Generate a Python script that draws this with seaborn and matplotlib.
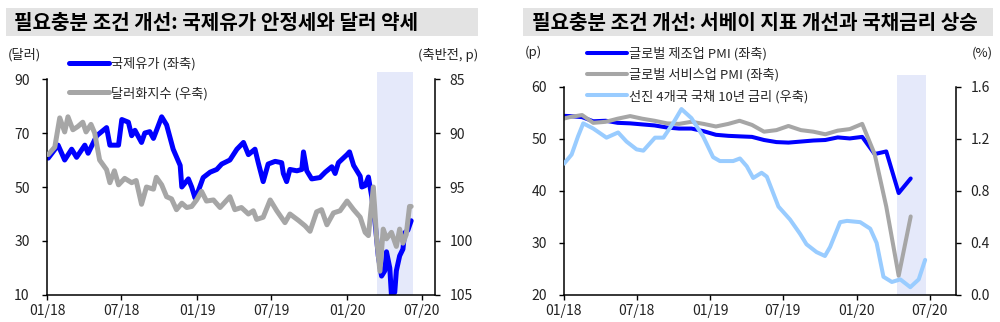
import numpy as np
import pandas as pd
import matplotlib
matplotlib.use("Agg")
import matplotlib.pyplot as plt
import matplotlib.dates as mdates
from matplotlib.patches import Rectangle
import seaborn as sns

# ---------------- data: left panel ----------------
oil_dates = ["2018-01-04", "2018-01-28", "2018-02-13", "2018-03-02", "2018-03-14", "2018-04-03",
             "2018-04-11", "2018-05-02", "2018-05-26", "2018-06-03", "2018-06-24", "2018-07-02",
             "2018-07-18", "2018-07-26", "2018-08-03", "2018-08-19", "2018-08-27", "2018-09-08",
             "2018-09-17", "2018-10-07", "2018-10-19", "2018-11-04", "2018-11-21", "2018-11-25",
             "2018-12-11", "2018-12-19", "2018-12-27", "2019-01-04", "2019-01-16", "2019-02-02",
             "2019-02-18", "2019-03-02", "2019-03-22", "2019-04-08", "2019-04-24", "2019-05-06",
             "2019-05-22", "2019-05-30", "2019-06-11", "2019-06-23", "2019-07-10", "2019-07-26",
             "2019-07-30", "2019-08-07", "2019-08-15", "2019-09-01", "2019-09-13", "2019-09-17",
             "2019-09-25", "2019-10-07", "2019-10-27", "2019-11-09", "2019-11-25", "2019-12-03",
             "2019-12-11", "2020-01-01", "2020-01-07", "2020-01-17", "2020-02-02", "2020-02-06",
             "2020-02-14", "2020-02-22", "2020-03-01", "2020-03-09", "2020-03-17", "2020-03-25",
             "2020-04-02", "2020-04-06", "2020-04-14", "2020-04-18", "2020-04-26", "2020-04-30",
             "2020-05-08", "2020-05-16", "2020-05-20", "2020-05-28", "2020-06-05"]
oil_values = [60.7, 65.5, 60.0, 64.0, 61.0, 65.5,
              62.5, 69.0, 72.0, 65.5, 65.5, 75.0,
              74.0, 69.0, 71.0, 66.5, 70.0, 70.5,
              68.0, 76.0, 73.0, 64.0, 58.0, 50.0,
              53.0, 50.0, 46.0, 48.5, 53.5, 55.5,
              56.5, 58.5, 60.0, 64.0, 66.5, 62.0,
              64.0, 59.0, 52.0, 58.5, 59.5, 59.0,
              55.0, 52.0, 56.5, 56.0, 56.5, 63.0,
              56.0, 53.0, 53.5, 55.5, 57.5, 55.0,
              59.0, 62.0, 63.0, 58.0, 54.0, 50.0,
              50.5, 53.7, 46.5, 37.0, 24.5, 17.0,
              19.0, 26.0, 20.0, 10.0, 11.0, 19.0,
              24.5, 27.0, 33.0, 34.0, 37.5]

dxy_dates = ["2018-01-04", "2018-01-20", "2018-02-01", "2018-02-13", "2018-02-21", "2018-03-05",
             "2018-03-17", "2018-03-29", "2018-04-06", "2018-04-18", "2018-04-27", "2018-05-09",
             "2018-05-26", "2018-06-03", "2018-06-14", "2018-06-24", "2018-07-09", "2018-07-26",
             "2018-08-06", "2018-08-19", "2018-08-31", "2018-09-17", "2018-09-24", "2018-10-07",
             "2018-10-19", "2018-10-31", "2018-11-12", "2018-11-25", "2018-12-07", "2018-12-19",
             "2018-12-31", "2019-01-12", "2019-01-24", "2019-02-10", "2019-02-26", "2019-03-22",
             "2019-04-03", "2019-04-19", "2019-05-06", "2019-05-18", "2019-05-26", "2019-06-11",
             "2019-06-28", "2019-07-14", "2019-08-03", "2019-08-15", "2019-09-05", "2019-09-21",
             "2019-10-03", "2019-10-19", "2019-10-31", "2019-11-13", "2019-11-29", "2019-12-15",
             "2020-01-01", "2020-01-17", "2020-02-02", "2020-02-14", "2020-02-22", "2020-03-05",
             "2020-03-13", "2020-03-21", "2020-03-29", "2020-04-06", "2020-04-18", "2020-04-30",
             "2020-05-08", "2020-05-16", "2020-05-24", "2020-06-01", "2020-06-05"]
dxy_values = [92.0, 91.3, 88.6, 89.9, 88.5, 89.7,
              89.4, 89.0, 89.9, 89.2, 90.0, 92.5,
              93.4, 94.6, 93.5, 94.8, 94.2, 94.6,
              94.4, 96.6, 95.0, 95.2, 94.1, 94.8,
              95.9, 96.1, 97.1, 96.5, 96.9, 96.8,
              96.2, 95.4, 96.3, 96.2, 96.9, 95.9,
              97.1, 96.9, 97.5, 97.2, 98.0, 97.8,
              96.2, 97.2, 98.3, 97.5, 98.1, 98.6,
              99.1, 97.3, 97.1, 98.5, 97.4, 97.2,
              96.3, 97.1, 97.8, 99.2, 99.5, 95.0,
              99.8, 102.8, 98.9, 99.8, 99.2, 100.5,
              98.9, 100.2, 99.4, 96.8, 96.8]

left_shade = ["2020-03-15", "2020-06-10"]

# ---------------- data: right panel ----------------
pmi_dates = ["2017-12-15",
             "2018-01-15", "2018-02-15", "2018-03-15", "2018-04-15", "2018-05-15", "2018-06-15",
             "2018-07-15", "2018-08-15", "2018-09-15", "2018-10-15", "2018-11-15", "2018-12-15",
             "2019-01-15", "2019-02-15", "2019-03-15", "2019-04-15", "2019-05-15", "2019-06-15",
             "2019-07-15", "2019-08-15", "2019-09-15", "2019-10-15", "2019-11-15", "2019-12-15",
             "2020-01-15", "2020-02-15", "2020-03-15", "2020-04-15", "2020-05-15"]
mfg_pmi = [54.5,
           54.4, 54.2, 53.4, 53.5, 53.1, 53.0, 52.8, 52.6, 52.2, 52.0, 52.0, 51.5,
           50.8, 50.6, 50.5, 50.4, 49.8, 49.4, 49.3, 49.5, 49.7, 49.8, 50.3, 50.1,
           50.4, 47.1, 47.6, 39.6, 42.4]
svc_pmi = [53.6,
           54.2, 54.6, 53.1, 53.3, 53.9, 54.4, 53.9, 53.5, 53.0, 52.9, 53.3, 52.9,
           52.4, 52.9, 53.5, 52.7, 51.4, 51.7, 52.5, 51.7, 51.4, 50.9, 51.6, 51.9,
           52.9, 47.1, 37.0, 23.7, 35.1]

yield_dates = ["2018-01-01", "2018-01-20", "2018-02-05", "2018-02-18", "2018-03-15", "2018-04-17",
               "2018-05-16", "2018-06-06", "2018-07-01", "2018-07-18", "2018-08-16", "2018-09-06",
               "2018-09-30", "2018-10-21", "2018-11-15", "2018-12-14", "2019-01-08", "2019-01-25",
               "2019-02-27", "2019-03-16", "2019-04-02", "2019-04-18", "2019-05-09", "2019-05-22",
               "2019-06-20", "2019-07-19", "2019-08-13", "2019-08-29", "2019-09-23", "2019-10-14",
               "2019-10-27", "2019-11-21", "2019-12-08", "2020-01-10", "2020-02-04", "2020-02-20",
               "2020-03-08", "2020-03-29", "2020-04-19", "2020-05-14", "2020-06-04", "2020-06-20"]
yield_values = [1.01, 1.08, 1.22, 1.32, 1.28, 1.21,
                1.25, 1.18, 1.12, 1.11, 1.21, 1.21,
                1.32, 1.43, 1.36, 1.22, 1.06, 1.03,
                1.03, 1.05, 0.99, 0.90, 0.94, 0.91,
                0.68, 0.58, 0.47, 0.39, 0.33, 0.30,
                0.37, 0.56, 0.57, 0.56, 0.51, 0.40,
                0.14, 0.10, 0.12, 0.06, 0.12, 0.27]

right_shade = ["2020-04-11", "2020-06-22"]

# ---------------- text ----------------
titles = ["필요충분 조건 개선: 국제유가 안정세와 달러 약세",
          "필요충분 조건 개선: 서베이 지표 개선과 국채금리 상승"]
left_labels = ["국제유가 (좌축)", "달러화지수 (우축)"]
right_labels = ["글로벌 제조업 PMI (좌축)", "글로벌 서비스업 PMI (좌축)", "선진 4개국 국채 10년 금리 (우축)"]
left_units = ["(달러)", "(축반전, p)"]
right_units = ["(p)", "(%)"]
x_ticks = ["2018-01-01", "2018-07-01", "2019-01-01", "2019-07-01", "2020-01-01", "2020-07-01"]

# ---------------- style ----------------
sns.set_theme(style="ticks")
plt.rcParams["font.family"] = ["Noto Sans CJK KR", "DejaVu Sans"]

BLUE = "#0000FF"
GRAY = "#A6A6A6"
LBLUE = "#99CCFF"
SHADE = "#E5E9FA"
TXT = "#222222"

fig = plt.figure(figsize=(10, 3.22), dpi=100)


def style_axes(ax, twin, lo, hi, rlo, rhi, yticks, rticks, xlim, yfmt=None, rfmt=None):
    ax.set_xlim(pd.Timestamp(xlim[0]), pd.Timestamp(xlim[1]))
    ax.set_xticks([pd.Timestamp(d) for d in x_ticks])
    ax.xaxis.set_major_formatter(mdates.DateFormatter("%m/%y"))
    ax.set_yticks(yticks)
    twin.set_yticks(rticks)
    if yfmt:
        ax.set_yticklabels([yfmt.format(v) for v in yticks])
    if rfmt:
        twin.set_yticklabels([rfmt.format(v) for v in rticks])
    ax.spines["top"].set_visible(False)
    ax.spines["right"].set_visible(False)
    ax.spines["left"].set_bounds(lo, hi)
    for s in ["top", "left", "bottom"]:
        twin.spines[s].set_visible(False)
    twin.spines["right"].set_bounds(min(rlo, rhi), max(rlo, rhi))
    for a in (ax, twin):
        for s in a.spines.values():
            s.set_color("black")
            s.set_linewidth(1.1)
    ax.tick_params(axis="y", direction="out", length=3.5, width=1, pad=9,
                   labelsize=10, labelcolor=TXT, color="black")
    ax.tick_params(axis="x", direction="out", length=3.5, width=1, pad=3,
                   labelsize=10, labelcolor=TXT, color="black")
    twin.tick_params(axis="y", direction="out", length=3.5, width=1, pad=7,
                     labelsize=10, labelcolor=TXT, color="black")
    ax.set_xlabel("")
    ax.set_ylabel("")
    twin.set_ylabel("")


# ---------------- left panel ----------------
ax1 = fig.add_axes([0.047, 0.0839, 0.388, 0.6925])
ax1.set_facecolor("none")
ax2 = ax1.twinx()
ax1.axvspan(pd.Timestamp(left_shade[0]), pd.Timestamp(left_shade[1]), color=SHADE, lw=0, zorder=0)

sns.lineplot(x=pd.to_datetime(oil_dates), y=oil_values, ax=ax1, color=BLUE, linewidth=3.6, legend=False)
h1 = ax1.lines[-1]
sns.lineplot(x=pd.to_datetime(dxy_dates), y=dxy_values, ax=ax2, color=GRAY, linewidth=3.6, legend=False)
h2 = ax2.lines[-1]

ax1.set_ylim(10, 92.6)
ax2.set_ylim(105, 84.35)
style_axes(ax1, ax2, 10, 90, 85, 105, [10, 30, 50, 70, 90], [85, 90, 95, 100, 105],
           ("2018-01-01", "2020-08-02"))

fig.legend([h1, h2], left_labels, loc="upper left", bbox_to_anchor=(0.069, 0.822),
           frameon=False, fontsize=9.5, handlelength=3.0, handletextpad=0.15,
           labelspacing=1.2, borderpad=0, borderaxespad=0)

# ---------------- right panel ----------------
ax3 = fig.add_axes([0.564, 0.0839, 0.392, 0.6832])
ax3.set_facecolor("none")
ax4 = ax3.twinx()
ax3.axvspan(pd.Timestamp(right_shade[0]), pd.Timestamp(right_shade[1]), color=SHADE, lw=0, zorder=0)

pmi_x = pd.to_datetime(pmi_dates)
sns.lineplot(x=pmi_x, y=mfg_pmi, ax=ax3, color=BLUE, linewidth=2.9, legend=False)
h3 = ax3.lines[-1]
sns.lineplot(x=pmi_x, y=svc_pmi, ax=ax3, color=GRAY, linewidth=2.9, legend=False)
h4 = ax3.lines[-1]
sns.lineplot(x=pd.to_datetime(yield_dates), y=yield_values, ax=ax4, color=LBLUE, linewidth=2.9, legend=False)
h5 = ax4.lines[-1]

ax3.set_ylim(20, 62.3)
ax4.set_ylim(0, 1.692)
style_axes(ax3, ax4, 20, 60, 0, 1.6, [20, 30, 40, 50, 60], [0.0, 0.4, 0.8, 1.2, 1.6],
           ("2018-01-01", "2020-09-05"), rfmt="{:.1f}")

fig.legend([h3, h4, h5], right_labels, loc="upper left", bbox_to_anchor=(0.587, 0.853),
           frameon=False, fontsize=9.5, handlelength=3.0, handletextpad=0.15,
           labelspacing=0.58, borderpad=0, borderaxespad=0)

# ---------------- titles & unit labels ----------------
for x0, w, tx, title in [(0.006, 0.472, 0.014, titles[0]), (0.523, 0.470, 0.532, titles[1])]:
    fig.patches.append(Rectangle((x0, 0.888), w, 0.087, transform=fig.transFigure,
                                 facecolor="#E3E3E3", edgecolor="none", zorder=0))
    fig.text(tx, 0.930, title, fontsize=14.5, fontweight="bold", color="black",
             ha="left", va="center")

fig.text(0.008, 0.829, left_units[0], fontsize=9.5, color=TXT, ha="left", va="center")
fig.text(0.478, 0.829, left_units[1], fontsize=9.5, color=TXT, ha="right", va="center")
fig.text(0.525, 0.836, right_units[0], fontsize=9.5, color=TXT, ha="left", va="center")
fig.text(0.993, 0.836, right_units[1], fontsize=9.5, color=TXT, ha="right", va="center")

fig.savefig("out.png", dpi=100, facecolor="white")
